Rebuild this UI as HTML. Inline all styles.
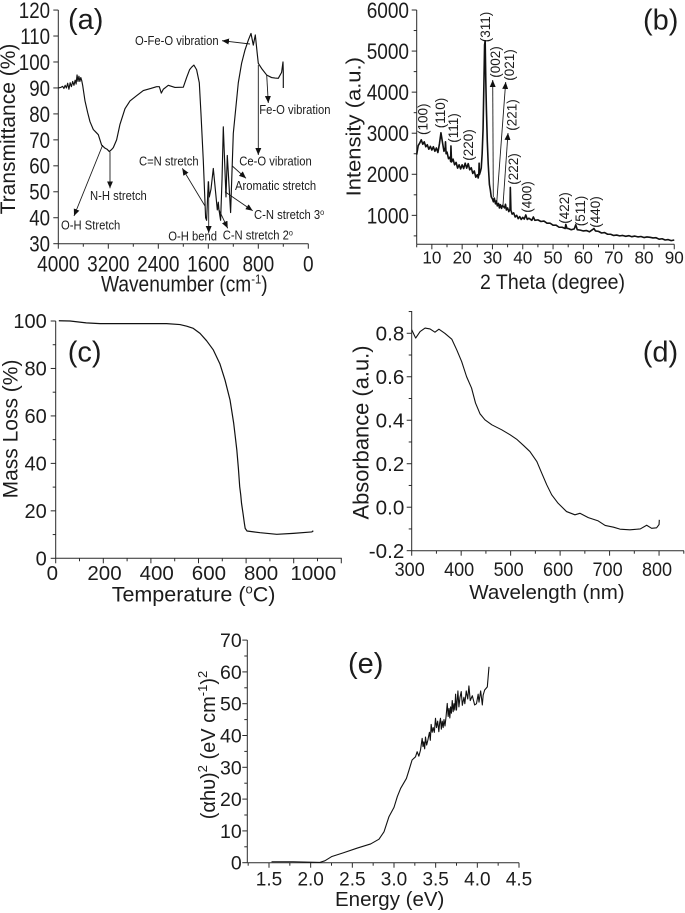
<!DOCTYPE html>
<html lang="en">
<head>
<meta charset="utf-8">
<title>Characterisation panels</title>
<style>
html,body{margin:0;padding:0;background:#fff;width:685px;height:913px;overflow:hidden}
svg{display:block;filter:blur(0.35px)}
text{font-family:"Liberation Sans",sans-serif;fill:#1c1c1c}
.note line{stroke:#1c1c1c;stroke-width:.9;marker-end:url(#arrow-head)}
</style>
</head>
<body>
<svg id="fig" xmlns="http://www.w3.org/2000/svg" width="685" height="913" viewBox="0 0 685 913">
<defs>
<marker id="arrow-head" markerUnits="userSpaceOnUse" markerWidth="7" markerHeight="6" refX="7" refY="3" orient="auto"><path d="M0,0L7,3L0,6z" fill="#111"/></marker>
</defs>

<g id="panel-a">
  <text x="68" y="29" font-size="29">(a)</text>
  <text transform="translate(15,129) rotate(-90)" font-size="21" text-anchor="middle">Transmittance (%)</text>
  <text transform="translate(101,291.7) scale(.87,1)" font-size="22">Wavenumber (cm<tspan dy="-8" font-size="13">-1</tspan><tspan dy="8">)</tspan></text>
  <g class="note">
    <text transform="translate(135,45) scale(.9,1)" font-size="12.5">O-Fe-O vibration</text>
    <line x1="250" y1="44" x2="222" y2="40.7"/>
    <text transform="translate(259.3,114) scale(.9,1)" font-size="12.5">Fe-O vibration</text>
    <line x1="266.7" y1="75" x2="268.3" y2="103"/>
    <text transform="translate(239.3,165.7) scale(.9,1)" font-size="12.5">Ce-O vibration</text>
    <line x1="258.3" y1="65" x2="258.3" y2="155"/>
    <text transform="translate(139,165.7) scale(.9,1)" font-size="12.5">C=N stretch</text>
    <line x1="205" y1="206" x2="182.3" y2="168.3"/>
    <text transform="translate(235,190) scale(.9,1)" font-size="12.5">Aromatic stretch</text>
    <line x1="232.3" y1="166" x2="246" y2="178.3"/>
    <text transform="translate(254,219) scale(.9,1)" font-size="12.5">C-N stretch 3<tspan dy="-4" font-size="8">o</tspan></text>
    <line x1="225" y1="191.7" x2="252.7" y2="210.7"/>
    <text transform="translate(222.7,239.3) scale(.9,1)" font-size="12.5">C-N stretch 2<tspan dy="-4" font-size="8">o</tspan></text>
    <line x1="218.3" y1="208.3" x2="227.7" y2="228.3"/>
    <text transform="translate(168.3,240.7) scale(.9,1)" font-size="12.5">O-H bend</text>
    <line x1="208.7" y1="181.7" x2="208.7" y2="233"/>
    <text transform="translate(90,200) scale(.9,1)" font-size="12.5">N-H stretch</text>
    <line x1="110" y1="151.7" x2="110" y2="188.3"/>
    <text transform="translate(61,229.3) scale(.9,1)" font-size="12.5">O-H Stretch</text>
    <line x1="102.7" y1="145" x2="74" y2="216"/>
  </g>
</g>

<g id="panel-b">
  <text x="643" y="29.3" font-size="29">(b)</text>
  <text transform="translate(360.7,126.7) rotate(-90) scale(1.1,1)" font-size="20" text-anchor="middle">Intensity (a.u.)</text>
  <text transform="translate(480,289) scale(.93,1)" font-size="21">2 Theta (degree)</text>
  <g class="note">
    <line x1="493.3" y1="197" x2="492.7" y2="80"/>
    <line x1="496.7" y1="203" x2="505.7" y2="82"/>
    <line x1="503" y1="205" x2="508" y2="133"/>
  </g>
  <g font-size="13.5" text-anchor="middle">
    <text transform="translate(427.5,119.3) rotate(-90)">(100)</text>
    <text transform="translate(444.8,113) rotate(-90)">(110)</text>
    <text transform="translate(458,128) rotate(-90)">(111)</text>
    <text transform="translate(473,145) rotate(-90)">(220)</text>
    <text transform="translate(489.8,27) rotate(-90)">(311)</text>
    <text transform="translate(499.8,62) rotate(-90)">(002)</text>
    <text transform="translate(513.8,65) rotate(-90)">(021)</text>
    <text transform="translate(516.5,115) rotate(-90)">(221)</text>
    <text transform="translate(518,169) rotate(-90)">(222)</text>
    <text transform="translate(531.5,197) rotate(-90)">(400)</text>
    <text transform="translate(569,208) rotate(-90)">(422)</text>
    <text transform="translate(584.8,211) rotate(-90)">(511)</text>
    <text transform="translate(599.8,212) rotate(-90)">(440)</text>
  </g>
</g>

<g id="panel-c">
  <text x="67.7" y="361.7" font-size="29">(c)</text>
  <text transform="translate(17.3,429) rotate(-90)" font-size="21" text-anchor="middle">Mass Loss (%)</text>
  <text x="111.7" y="601.7" font-size="21.5">Temperature (<tspan dy="-8" font-size="13">o</tspan><tspan dy="8">C)</tspan></text>
</g>

<g id="panel-d">
  <text x="642.7" y="361.7" font-size="29">(d)</text>
  <text transform="translate(368.3,432.5) rotate(-90)" font-size="21.9" text-anchor="middle">Absorbance (a.u.)</text>
  <text x="469.3" y="599" font-size="20.5">Wavelength (nm)</text>
</g>

<g id="panel-e">
  <text x="348" y="673" font-size="29">(e)</text>
  <text transform="translate(215,745) rotate(-90)" font-size="20" text-anchor="middle">(αhυ)<tspan dy="-8" font-size="13">2</tspan><tspan dy="8"> (eV cm</tspan><tspan dy="-8" font-size="13">-1</tspan><tspan dy="8">)</tspan><tspan dy="-8" font-size="13">2</tspan></text>
  <text x="335" y="906" font-size="20.5">Energy (eV)</text>
</g>
</svg>

<script>
// ---- panel (a) FTIR ----
const ftirWavenumber = [4000,3960,3930,3910,3890,3870,3850,3830,3810,3790,3770,3750,3730,3715,3700,3685,3670,3655,3640,3625,3610,3573,3530,3493,3440,3400,3360,3307,3253,3220,3184,3150,3120,3067,3013,2933,2853,2747,2640,2520,2427,2384,2352,2320,2240,2133,2000,1947,1900,1867,1830,1787,1744,1717,1680,1643,1627,1600,1584,1557,1520,1456,1440,1429,1403,1380,1360,1317,1296,1243,1200,1120,1067,1013,960,917,880,848,816,800,747,667,587,530,480,427,405,400,400];
const ftirTransmittance = [90,90.2,90.6,89.8,91,90,91.8,89.5,92,90.5,92.5,91,93,91.5,95,92.5,94.5,92.5,94,92.8,91,85,80.5,77,74,73,72,68,66.8,66.4,65.5,66.2,67,70,76,82,85,87,89,89.8,90.5,90.5,88,89.5,91,90.2,90.3,94,97,98,98.8,97,92,80,62,40,39,53.9,48,51,59,43,46,43,39,55,75,48,64,42,72.5,92,99.5,104.6,108.4,111,106.5,110.4,103,99.5,97.5,95,94,93.8,93.7,96,100,96,90];
const ftirXMajor = [4000,3200,2400,1600,800,0];
const ftirXMinor = [3600,2800,2000,1200,400];
const ftirYMajor = [30,40,50,60,70,80,90,100,110,120];

// ---- panel (b) XRD ----
const xrdTheta = [5,5.5,6,6.5,7,7.5,8,8.5,9,9.5,10,10.5,11,11.5,12,12.5,13,13.5,14,14.4,14.5,14.7,15,15.5,16,16.2,16.3,16.5,17,17.5,18,18.5,19,19.5,20,20.5,21,21.5,22,22.5,23,23.5,24,24.5,25,25.3,25.5,25.6,25.7,26,26.3,26.6,26.9,27.2,27.4,27.6,27.8,28,28.3,28.6,29,29.3,29.6,30,30.3,30.6,31,31.3,31.6,32,32.3,32.6,33,33.3,33.6,34,34.3,34.6,35,35.4,35.8,35.9,36.1,36.5,37,37.5,38,38.5,39,39.5,40,40.5,41,41.5,42,43,43.5,44,45,46,47,48,49,50,51,52,53,54,54.2,54.6,55,56,57,57.5,58,59,60,61,62,63,63.5,64,65,66,67,68,69,70,71,72,73,74,75,76,77,78,79,80,81,82,83,84,85,86,87,88,89,90];
const xrdIntensity = [2480,2700,2760,2840,2730,2790,2670,2720,2610,2680,2590,2670,2560,2640,2530,2740,3010,2780,2560,2640,2790,2500,2540,2380,2420,2310,2690,2300,2370,2230,2290,2150,2230,2130,2230,2140,2270,2150,2260,2110,2160,2020,2080,1930,1990,1910,2010,2270,1990,2060,2150,2500,3100,4300,5150,5250,4300,3600,2800,2250,1750,1620,1450,1400,1330,1420,1280,1350,1230,1290,1180,1260,1170,1240,1220,1180,1270,1130,1180,1090,1150,1680,1120,1030,1060,960,1000,920,970,900,950,910,1010,900,930,880,960,880,890,850,860,810,810,760,760,710,710,680,780,680,680,650,670,770,650,640,620,630,600,650,680,620,610,570,580,540,540,510,520,500,510,490,505,480,495,475,485,460,475,465,450,455,420,430,400,410,385,400];
const xrdXMajor = [10,20,30,40,50,60,70,80,90];
const xrdXMinor = [5,15,25,35,45,55,65,75,85];
const xrdYMajor = [1000,2000,3000,4000,5000,6000];
const xrdYMinor = [500,1500,2500,3500,4500,5500];

// ---- panel (c) TGA ----
const tgaTemp = [25,68,130,183,310,438,489,515,540,566,591,617,642,662,681,688,695,701,707,713,718,722,725,731,736,739,746,796,860,923,994,1000];
const tgaMass = [100.1,100,99.2,98.9,98.9,98.9,98.5,97.8,96.9,94.8,91.7,87.8,82,75,66.7,61.8,56.9,51.3,45.6,37.9,30.2,26.7,23.2,18.7,14.7,12.6,11.5,10.8,10.1,10.5,11.1,11.6];
const tgaXLabels = [0,200,400,600,800,1000];
const tgaXMajor = [0,200,400,600,800,1000,1200];
const tgaXMinor = [100,300,500,700,900,1100];
const tgaYMajor = [0,20,40,60,80,100];
const tgaYMinor = [10,30,50,70,90];

// ---- panel (d) UV-Vis ----
const uvWavelength = [300,308,317,327,337,347,355,367,381,391,401,411,421,429,438,448,462,482,499,512,526,539,553,563,573,583,596,613,630,640,657,677,691,708,721,741,762,775,785,795,800,800.5];
const uvAbsorbance = [.816,.778,.808,.824,.82,.805,.819,.8,.773,.724,.67,.6,.548,.479,.43,.402,.379,.356,.333,.313,.284,.256,.21,.156,.103,.057,.018,-.02,-.035,-.028,-.048,-.063,-.084,-.092,-.101,-.104,-.1,-.083,-.097,-.095,-.08,-.058];
const uvXMajor = [300,400,500,600,700,800];
const uvXMinor = [350,450,550,650,750,850];
const uvYMajor = [-0.2,0,0.2,0.4,0.6,0.8];
const uvYMinor = [-0.1,0.1,0.3,0.5,0.7,0.9];

// ---- panel (e) Tauc ----
const taucEnergy = [1.53,1.79,2.11,2.17,2.25,2.39,2.56,2.72,2.82,2.88,2.94,3.0,3.04,3.08,3.149,3.18,3.217,3.258,3.278,3.298,3.318,3.338,3.348,3.358,3.368,3.378,3.392,3.406,3.425,3.436,3.446,3.458,3.47,3.484,3.498,3.51,3.524,3.538,3.548,3.558,3.568,3.579,3.59,3.6,3.612,3.625,3.639,3.65,3.66,3.67,3.679,3.689,3.699,3.71,3.72,3.73,3.739,3.75,3.767,3.779,3.792,3.807,3.82,3.839,3.85,3.867,3.885,3.899,3.915,3.94,3.968,3.99,4.01,4.02,4.04,4.06,4.07,4.088,4.12,4.14];
const taucValue = [.3,.3,.1,.6,1.9,3.1,4.6,5.9,7.4,9.7,14.5,17.4,20.8,23.4,26.5,29.1,32.3,33.3,34.9,33.5,35.4,39.1,36.5,38,35.8,39.5,37,38.5,41,38.5,43.5,41,42.5,41,45.4,42.5,44.5,41.2,44,45.4,42,44.5,42.5,45,43,46,50.1,46,48.5,45.5,49,47,51,47.5,50,48,53,48,54,49,52,53.8,49.5,52,50,54,51.5,55.6,51,52.5,49.6,50,53,50.5,54,49.6,52.7,54.3,55.3,61.6];
const taucXMajor = [1.5,2,2.5,3,3.5,4,4.5];
const taucXMinor = [1.25,1.75,2.25,2.75,3.25,3.75,4.25];
const taucYMajor = [0,10,20,30,40,50,60,70];
const taucYMinor = [5,15,25,35,45,55,65];

const SVGNS = 'http://www.w3.org/2000/svg';

function addLine(g, x1, y1, x2, y2, name) {
  const el = document.createElementNS(SVGNS, 'line');
  el.setAttribute('x1', x1);
  el.setAttribute('y1', y1);
  el.setAttribute('x2', x2);
  el.setAttribute('y2', y2);
  el.setAttribute('stroke', '#2a2a2a');
  el.setAttribute('stroke-width', '1');
  
  
  g.appendChild(el);
}

function addLabel(g, str, x, y, size, anchor, sx, name) {
  const el = document.createElementNS(SVGNS, 'text');
  el.setAttribute('transform', 'translate(' + x + ',' + y + ') scale(' + sx + ',1)');
  el.setAttribute('font-size', size);
  el.setAttribute('text-anchor', anchor);
  
  
  el.textContent = str;
  g.appendChild(el);
}

function addCurve(g, xs, ys, fx, fy, width, name) {
  let d = '';
  for (let i = 0; i < xs.length; i++) {
    d += (i ? 'L' : 'M') + fx(xs[i]).toFixed(2) + ',' + fy(ys[i]).toFixed(2);
  }
  const el = document.createElementNS(SVGNS, 'path');
  el.setAttribute('d', d);
  el.setAttribute('fill', 'none');
  el.setAttribute('stroke', '#111');
  el.setAttribute('stroke-width', width);
  el.setAttribute('stroke-linejoin', 'round');
  
  
  g.appendChild(el);
}

function drawAxes(c) {
  const g = document.getElementById(c.panel);
  addLine(g, c.left, c.top, c.left, c.bottom, c.prefix + '-y-axis');
  addLine(g, c.left, c.bottom, c.right, c.bottom, c.prefix + '-x-axis');
  c.yMajor.forEach(function (v) {
    addLine(g, c.left - 5, c.fy(v), c.left, c.fy(v), c.prefix + '-y-tick');
    addLabel(g, c.yFmt(v), c.yLabelRight, c.fy(v) + c.yFont * 0.36, c.yFont, 'end', c.ySx, c.prefix + '-y-tick-label');
  });
  (c.yMinor || []).forEach(function (v) {
    addLine(g, c.left - 3, c.fy(v), c.left, c.fy(v), c.prefix + '-y-minor-tick');
  });
  c.xMajor.forEach(function (v) {
    addLine(g, c.fxTick(v), c.bottom, c.fxTick(v), c.bottom + 5, c.prefix + '-x-tick');
  });
  (c.xMinor || []).forEach(function (v) {
    addLine(g, c.fxTick(v), c.bottom, c.fxTick(v), c.bottom + 3, c.prefix + '-x-minor-tick');
  });
  c.xLabels.forEach(function (v) {
    addLabel(g, c.xFmt(v), c.fxLabel(v), c.xBaseline, c.xFont, 'middle', c.xSx, c.prefix + '-x-tick-label');
  });
}

const plain = function (v) { return String(v); };
const oneDec = function (v) { return v.toFixed(1); };

// axis functions
const ax = function (v) { return 58.3 + (4000 - v) * 0.0625; };
const ay = function (v) { return 243.7 - (v - 30) * 2.596; };
const bx = function (v) { return 416.7 + (v - 5) * 3.03; };
const by = function (v) { return 10 + (6000 - v) * 0.04107; };
const cxTick = function (v) { return 55.7 + v * 0.238; };
const cx = function (v) { return 52.3 + v * 0.261; };
const cy = function (v) { return 558.3 - v * 2.373; };
const dx = function (v) { return 411.7 + (v - 300) * 0.4947; };
const dy = function (v) { return 507.2 - v * 217.4; };
const ex = function (v) { return 269 + (v - 1.5) * 83.33; };
const ey = function (v) { return 862.7 - v * 3.18; };

drawAxes({panel:'panel-a',prefix:'a',left:58.3,right:308.3,top:10,bottom:243.7,fy:ay,fxTick:ax,fxLabel:ax,
  xMajor:ftirXMajor,xMinor:ftirXMinor,yMajor:ftirYMajor,xLabels:ftirXMajor,xFmt:plain,yFmt:plain,
  yLabelRight:50,yFont:22,ySx:.85,xFont:22,xSx:.865,xBaseline:271.7});
addCurve(document.getElementById('panel-a'), ftirWavenumber, ftirTransmittance, ax, ay, 1.15, 'ftir-spectrum');

drawAxes({panel:'panel-b',prefix:'b',left:416.7,right:674.3,top:10,bottom:244.3,fy:by,fxTick:bx,fxLabel:bx,
  xMajor:xrdXMajor,xMinor:xrdXMinor,yMajor:xrdYMajor,yMinor:xrdYMinor,xLabels:xrdXMajor,xFmt:plain,yFmt:plain,
  yLabelRight:409,yFont:22,ySx:.865,xFont:18,xSx:.95,xBaseline:263.3});
addCurve(document.getElementById('panel-b'), xrdTheta, xrdIntensity, bx, by, 1.6, 'xrd-pattern');

drawAxes({panel:'panel-c',prefix:'c',left:55.7,right:341.7,top:321,bottom:558.3,fy:cy,fxTick:cxTick,fxLabel:cx,
  xMajor:tgaXMajor,xMinor:tgaXMinor,yMajor:tgaYMajor,yMinor:tgaYMinor,xLabels:tgaXLabels,xFmt:plain,yFmt:plain,
  yLabelRight:46.7,yFont:20,ySx:1,xFont:20.5,xSx:1,xBaseline:580});
addCurve(document.getElementById('panel-c'), tgaTemp, tgaMass, cx, cy, 1.2, 'tga-curve');

drawAxes({panel:'panel-d',prefix:'d',left:411.7,right:684,top:311,bottom:550.7,fy:dy,fxTick:dx,fxLabel:function (v) { return dx(v) - 2; },
  xMajor:uvXMajor,xMinor:uvXMinor,yMajor:uvYMajor,yMinor:uvYMinor,xLabels:uvXMajor,xFmt:plain,yFmt:oneDec,
  yLabelRight:404.3,yFont:20,ySx:1.03,xFont:19,xSx:.95,xBaseline:576});
addCurve(document.getElementById('panel-d'), uvWavelength, uvAbsorbance, dx, dy, 1.1, 'absorbance-curve');

drawAxes({panel:'panel-e',prefix:'e',left:247.3,right:519,top:640,bottom:862.7,fy:ey,fxTick:ex,fxLabel:ex,
  xMajor:taucXMajor,xMinor:taucXMinor,yMajor:taucYMajor,yMinor:taucYMinor,xLabels:taucXMajor,xFmt:oneDec,yFmt:plain,
  yLabelRight:241.7,yFont:19.5,ySx:1,xFont:19,xSx:1,xBaseline:885.7});
addCurve(document.getElementById('panel-e'), taucEnergy, taucValue, ex, ey, 1.1, 'tauc-curve');
</script>
</body>
</html>
